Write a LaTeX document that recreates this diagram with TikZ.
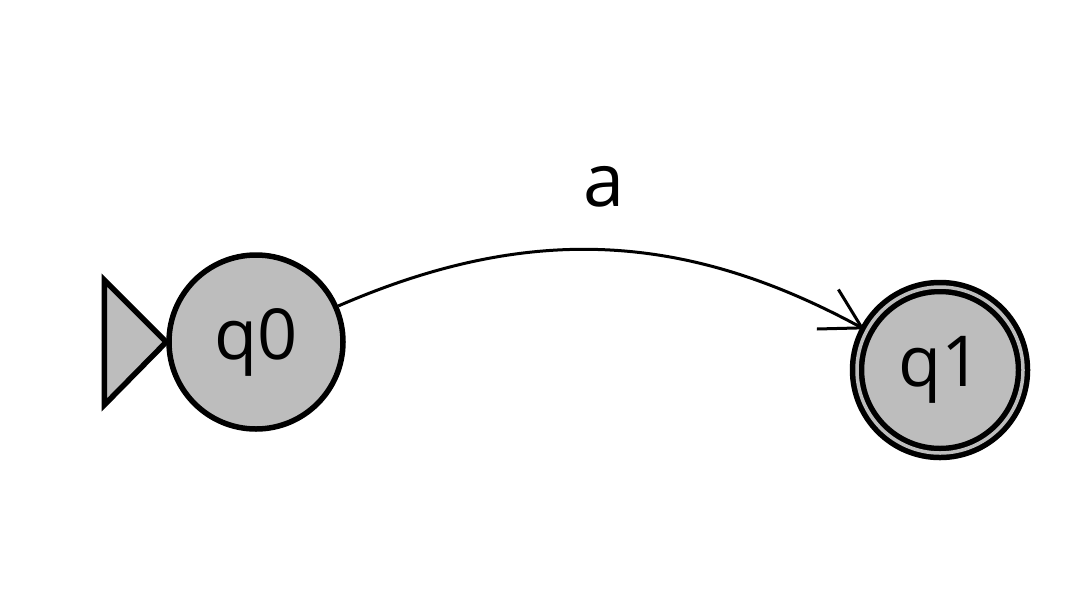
\documentclass[tikz,border=0pt]{standalone}
\usepackage{fontspec}
\setmainfont{Open Sans}
\usepackage{tikz}
\usetikzlibrary{arrows.meta, positioning, calc}

\begin{document}
\begin{tikzpicture}[
    state/.style={circle, draw, line width=0.055cm, fill=black!26, minimum size=1.74cm, inner sep=0pt, font=\fontsize{20}{24}\selectfont},
    final/.style={state, double=black!26, double distance=0.035cm, minimum size=1.66cm},
    lbl/.style={font=\fontsize{21}{25}\selectfont},
    arr/.style={-{Straight Barb[length=0.39cm, width=0.45cm, line width=0.03cm]}, line width=0.03cm},
]
\useasboundingbox (0,0) rectangle (10.8,-6);

% States
\node[state] (q0) at (2.56, -3.42) {q0};
\node[final] (q1) at (9.40, -3.70) {q1};

% Initial marker
\draw[line width=0.055cm, fill=black!26, line join=miter]
    (q0.west) -- ++(-0.62, 0.62) -- ++(0, -1.25) -- cycle;

% Transition
\draw[arr] (q0) to[bend left=26] node[lbl, midway, above=0.3cm] {a} (q1);

\end{tikzpicture}
\end{document}
